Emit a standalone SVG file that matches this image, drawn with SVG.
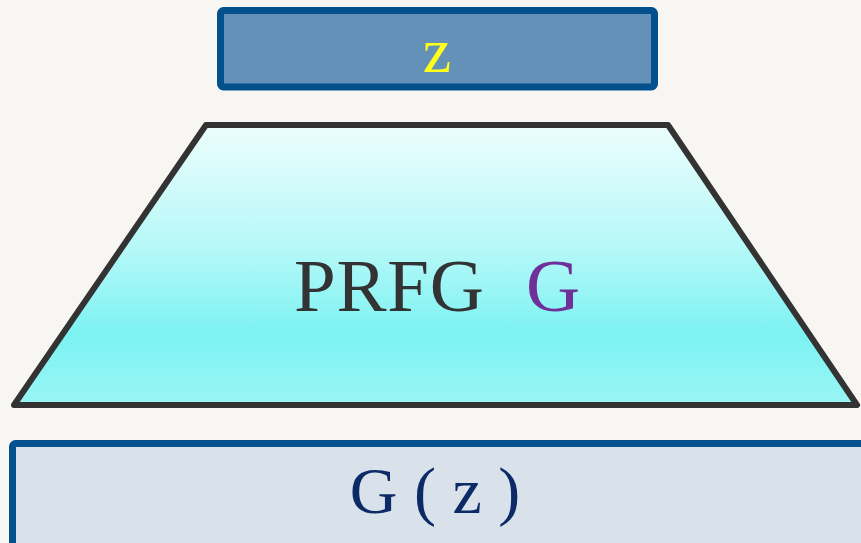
<svg xmlns="http://www.w3.org/2000/svg" width="861" height="543" viewBox="0 0 861 543">
<defs>
<linearGradient id="trap" x1="0" y1="125" x2="0" y2="405" gradientUnits="userSpaceOnUse">
<stop offset="0" stop-color="#ecfdfd"/>
<stop offset="0.45" stop-color="#b4f8f8"/>
<stop offset="0.75" stop-color="#7cf2f2"/>
<stop offset="1" stop-color="#9af6f6"/>
</linearGradient>
<style>
.lbl{font-family:"Liberation Serif","DejaVu Serif",serif}
.box{stroke:#02508c;stroke-width:7;stroke-linejoin:round}
</style>
</defs>
<rect x="0" y="0" width="861" height="543" fill="#f8f6f2"/>
<g id="connectors"></g>
<g id="z-node">
<rect class="box" x="220.5" y="10.5" width="434" height="76.5" rx="3" fill="#6391b8"/>
<text class="lbl" x="437" y="72" font-size="64" fill="#ffff1a" text-anchor="middle">z</text>
</g>
<g id="generator">
<polygon points="206,125 668,125 857,405 14,405" fill="url(#trap)" stroke="#333333" stroke-width="6" stroke-linejoin="round"/>
<text class="lbl" x="294" y="311" font-size="75" fill="#333333" textLength="190">PRFG</text>
<text class="lbl" x="526" y="311" font-size="75" fill="#70309a">G</text>
</g>
<g id="output">
<rect class="box" x="12.5" y="443.5" width="860" height="110" rx="3" fill="#d9e2ea"/>
<text class="lbl" x="435" y="513" font-size="66" fill="#0c2b66" text-anchor="middle" xml:space="preserve">G ( z )</text>
</g>
</svg>
